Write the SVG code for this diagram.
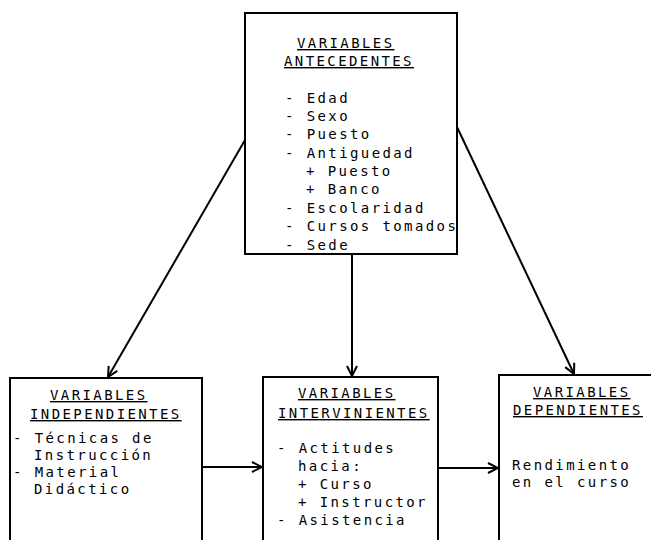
<svg xmlns="http://www.w3.org/2000/svg" width="651" height="540" viewBox="0 0 651 540">
<defs>
<style>
.box{fill:none;stroke:#000;stroke-width:2}
.t{font-family:"DejaVu Sans Mono","Liberation Mono",monospace;font-size:14px;letter-spacing:2.4px;fill:#000}
.h{text-decoration:underline}
.c{fill:none;stroke:#000;stroke-width:2}
</style>
<marker id="ah" viewBox="0 0 12 12" refX="11" refY="6" markerWidth="12" markerHeight="12" markerUnits="userSpaceOnUse" orient="auto">
<path d="M1,1 L11,6 L1,11" fill="none" stroke="#000" stroke-width="2"/>
</marker>
</defs>
<rect width="651" height="540" fill="#fff"/>
<g id="antecedentes">
<rect class="box" x="245" y="13" width="212" height="241"/>
<text class="t h" x="297" y="48">VARIABLES</text>
<text class="t h" x="284" y="66">ANTECEDENTES</text>
<text class="t" x="285" y="103">- Edad</text>
<text class="t" x="285" y="121">- Sexo</text>
<text class="t" x="285" y="139">- Puesto</text>
<text class="t" x="285" y="158">- Antiguedad</text>
<text class="t" x="306" y="176">+ Puesto</text>
<text class="t" x="306" y="194">+ Banco</text>
<text class="t" x="285" y="213">- Escolaridad</text>
<text class="t" x="285" y="231">- Cursos tomados</text>
<text class="t" x="285" y="250">- Sede</text>
</g>
<g id="independientes">
<path class="box" d="M10,540 V378 H202 V540"/>
<text class="t h" x="50" y="400">VARIABLES</text>
<text class="t h" x="30" y="419">INDEPENDIENTES</text>
<text class="t" x="13" y="443">- Técnicas de</text>
<text class="t" x="34" y="460">Instrucción</text>
<text class="t" x="13" y="477">- Material</text>
<text class="t" x="34" y="494">Didáctico</text>
</g>
<g id="intervinientes">
<path class="box" d="M263,540 V377 H438 V540"/>
<text class="t h" x="298" y="398">VARIABLES</text>
<text class="t h" x="278" y="418">INTERVINIENTES</text>
<text class="t" x="277" y="453">- Actitudes</text>
<text class="t" x="298" y="471">hacia:</text>
<text class="t" x="298" y="489">+ Curso</text>
<text class="t" x="298" y="507">+ Instructor</text>
<text class="t" x="277" y="525">- Asistencia</text>
</g>
<g id="dependientes">
<path class="box" d="M499,540 V375 H651"/>
<text class="t h" x="533" y="397">VARIABLES</text>
<text class="t h" x="513" y="415">DEPENDIENTES</text>
<text class="t" x="512" y="470">Rendimiento</text>
<text class="t" x="512" y="487">en el curso</text>
</g>
<g id="connectors">
<line class="c" x1="245" y1="140" x2="108" y2="377" marker-end="url(#ah)"/>
<line class="c" x1="457" y1="127" x2="574" y2="374" marker-end="url(#ah)"/>
<line class="c" x1="352" y1="254" x2="352" y2="376" marker-end="url(#ah)"/>
<line class="c" x1="202" y1="467" x2="262" y2="467" marker-end="url(#ah)"/>
<line class="c" x1="438" y1="468" x2="498" y2="468" marker-end="url(#ah)"/>
</g>
</svg>
